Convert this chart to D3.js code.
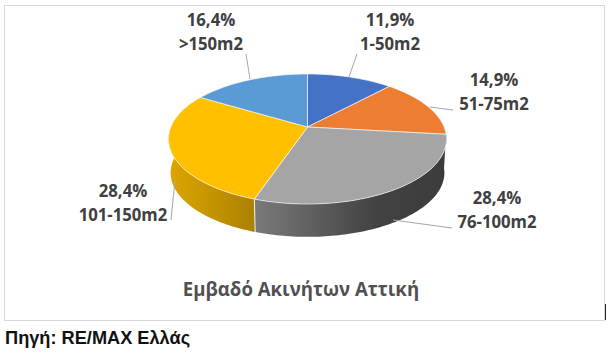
<!DOCTYPE html>
<html>
<head>
<meta charset="utf-8">
<script src="https://cdn.jsdelivr.net/npm/d3@7"></script>
<style>
  html, body { margin: 0; padding: 0; background: #fff; }
  svg { display: block; }
</style>
</head>
<body>
<div id="chart"></div>
<script>
var categories = ["1-50m2", "51-75m2", "76-100m2", "101-150m2", ">150m2"];
var shares = [11.9, 14.9, 28.4, 28.4, 16.4];
var shareLabels = ["11,9%", "14,9%", "28,4%", "28,4%", "16,4%"];
var topColors = ["#4472c4", "#ed7d31", "#a5a5a5", "#ffc000", "#5b9bd5"];
var chartTitle = "Εμβαδό Ακινήτων Αττική";
var sourceText = "Πηγή: RE/MAX Ελλάς";

var width = 612, height = 360;
var cx = 307.5, cy = 127;
// tilt of the disc, front of the pie is nearer so it comes out bigger
var persp = 0.1846, radX = 136.6, radY = 62.8;
var depth = 34, bottomScale = 0.985;

// label centre x, y of first line, leader line from label to rim
var labelPos = [
	{x: 390, y: 26, line: [[357, 54], [349, 77]]},
	{x: 494, y: 86, line: [[453, 110], [430, 107]]},
	{x: 497, y: 204, line: [[452, 228], [393, 220]]},
	{x: 123, y: 197, line: [[171, 220], [175, 180]]},
	{x: 211, y: 26, line: [[246, 54], [250, 79]]}
];

var svg = d3.select("#chart").append("svg")
	.attr("width", width)
	.attr("height", height);

var defs = svg.append("defs");
function wallGradient(id, stops) {
	let g = defs.append("linearGradient").attr("id", id)
		.attr("gradientUnits", "userSpaceOnUse")
		.attr("x1", stops[0][0]).attr("x2", stops[stops.length-1][0])
		.attr("y1", 0).attr("y2", 0);
	let x0 = stops[0][0], x1 = stops[stops.length-1][0];
	stops.forEach(s => {
		g.append("stop").attr("offset", (s[0]-x0)/(x1-x0)).attr("stop-color", s[1]);
	});
}
wallGradient("wallGray", [[255, "#7a7a7a"], [375, "#424242"], [446, "#3c3c3c"]]);
wallGradient("wallYellow", [[170, "#dca600"], [255, "#ab8000"]]);

// frame of the chart
svg.append("rect")
	.attr("x", 4.5).attr("y", 5.5)
	.attr("width", 600).attr("height", 315)
	.attr("fill", "#fff")
	.attr("stroke", "#d9d9d9");
svg.append("line")
	.attr("x1", 605.5).attr("x2", 605.5)
	.attr("y1", 304).attr("y2", 320)
	.attr("stroke", "#222");

var pie = d3.pie().sort(null).value(d => d);
var arcs = pie(shares);

function rim(a, lower) {
	let X = Math.sin(a), Y = Math.cos(a);
	let w = 1 + persp * Y;
	let s = lower ? bottomScale : 1;
	return [cx + s * radX * X / w, cy + (lower ? depth : 0) - s * radY * Y / w];
}
function rimPoints(a0, a1, lower) {
	let n = Math.ceil((a1 - a0) / 0.02);
	return d3.range(n + 1).map(i => rim(a0 + (a1 - a0) * i / n, lower));
}
var line = d3.line();

// walls first, only the two slices at the front have one
svg.append("path")
	.attr("d", line(rimPoints(arcs[2].startAngle, arcs[2].endAngle, false)
		.concat(rimPoints(arcs[2].startAngle, arcs[2].endAngle, true).reverse())) + "Z")
	.attr("fill", "url(#wallGray)");
svg.append("path")
	.attr("d", line(rimPoints(arcs[3].startAngle, arcs[3].endAngle, false)
		.concat(rimPoints(arcs[3].startAngle, arcs[3].endAngle, true).reverse())) + "Z")
	.attr("fill", "url(#wallYellow)");
// seam between the walls
var seam = arcs[3].startAngle;
svg.append("line")
	.attr("x1", rim(seam, false)[0]).attr("y1", rim(seam, false)[1])
	.attr("x2", rim(seam, true)[0]).attr("y2", rim(seam, true)[1])
	.attr("stroke", "#f4efe0").attr("stroke-width", 1);

// top of the pie
svg.append("g").selectAll("path")
	.data(arcs)
	.join("path")
	.attr("d", d => line([[cx, cy]].concat(rimPoints(d.startAngle, d.endAngle, false))) + "Z")
	.attr("fill", (d, i) => topColors[i])
	.attr("stroke", "#fff")
	.attr("stroke-opacity", 0.75)
	.attr("stroke-width", 0.8)
	.attr("stroke-linejoin", "round");

// leader lines
svg.append("g").selectAll("path")
	.data(labelPos)
	.join("path")
	.attr("d", d => line(d.line))
	.attr("fill", "none")
	.attr("stroke", "#a6a6a6")
	.attr("stroke-width", 1);

// reference font is narrower than Open Sans Bold, so squeeze the glyphs a bit
function squeeze(sel, factor) {
	sel.each(function() {
		let len = this.getComputedTextLength();
		d3.select(this)
			.attr("textLength", len * factor)
			.attr("lengthAdjust", "spacingAndGlyphs");
	});
}

var labels = svg.append("g")
	.attr("font-family", "'Open Sans', sans-serif")
	.attr("font-weight", 700)
	.attr("font-size", 17.8)
	.attr("fill", "#404040")
	.attr("text-anchor", "middle");
labels.selectAll("text.share")
	.data(shareLabels)
	.join("text")
	.attr("class", "share")
	.attr("x", (d, i) => labelPos[i].x)
	.attr("y", (d, i) => labelPos[i].y)
	.text(d => d)
	.call(squeeze, 0.94);
labels.selectAll("text.cat")
	.data(categories)
	.join("text")
	.attr("class", "cat")
	.attr("x", (d, i) => labelPos[i].x)
	.attr("y", (d, i) => labelPos[i].y + 24)
	.text(d => d)
	.call(squeeze, 0.94);

svg.append("text")
	.attr("x", 301).attr("y", 296)
	.attr("text-anchor", "middle")
	.attr("font-family", "'Open Sans', sans-serif")
	.attr("font-weight", 700)
	.attr("font-size", 20)
	.attr("fill", "#505050")
	.text(chartTitle)
	.call(squeeze, 0.93);

svg.append("text")
	.attr("x", 5).attr("y", 344)
	.attr("font-family", "'Liberation Sans', Arial, sans-serif")
	.attr("font-weight", 700)
	.attr("font-size", 18.2)
	.attr("fill", "#111")
	.text(sourceText);
</script>
</body>
</html>
